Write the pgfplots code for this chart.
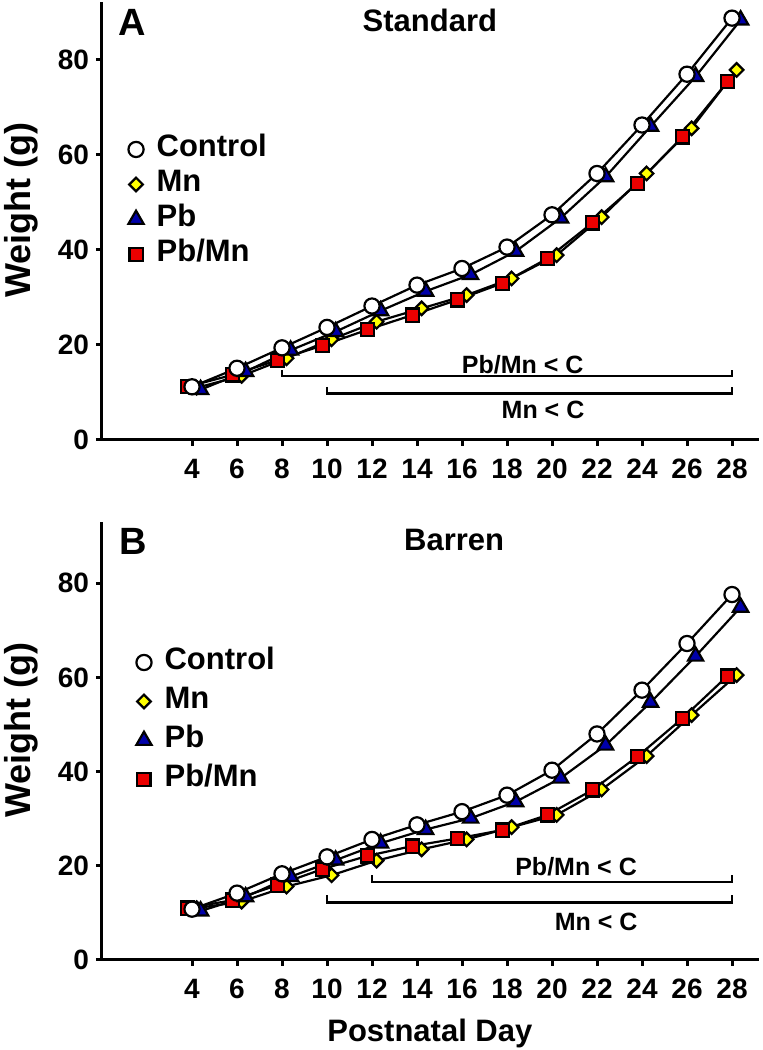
\documentclass[border=0pt]{standalone}
\usepackage{fontspec}
\setmainfont{Liberation Sans}
\usepackage{pgfplots}
\usepackage{pgfplotstable}
\pgfplotsset{compat=1.18}
\definecolor{cy}{RGB}{255,255,0}
\definecolor{cb}{RGB}{0,0,170}
\definecolor{cr}{RGB}{235,0,0}

\pgfplotstableread{
day ctl pb mn pbmn
4  11.2 10.6 11.0 11.2
6  15.1 14.4 13.5 13.7
8  19.4 18.9 17.2 16.8
10 23.7 22.8 21.2 19.9
12 28.2 27.2 24.9 23.2
14 32.6 31.3 27.7 26.3
16 36.1 34.8 30.5 29.5
18 40.6 39.7 34.0 33.0
20 47.4 46.7 38.9 38.2
22 56.1 55.4 46.9 45.7
24 66.3 66.0 56.1 54.0
26 77.0 76.5 65.6 63.8
28 88.8 88.4 77.9 75.4
}\stdtab

\pgfplotstableread{
day ctl pb mn pbmn
4  10.8 10.4 11.0 11.0
6  14.2 13.4 12.4 12.7
8  18.3 17.7 15.6 15.9
10 21.9 21.2 18.0 19.3
12 25.6 24.8 21.1 22.1
14 28.7 27.7 23.5 24.2
16 31.5 30.1 25.6 25.8
18 35.0 33.6 28.2 27.6
20 40.3 38.6 30.8 30.8
22 48.0 45.6 36.2 36.1
24 57.3 54.7 43.3 43.2
26 67.2 64.5 52.0 51.3
28 77.6 74.9 60.5 60.3
}\bartab

\tikzset{
  annot/.style={font=\fontsize{12.5}{14}\selectfont\bfseries},
  ctl/.style={black, line width=1.1pt, mark=*, mark size=3.8pt, mark options={fill=white, solid}},
  mnS/.style={black, line width=1.1pt, mark=square*, mark size=2.4pt, mark options={fill=cy, rotate=45, solid}},
  pbS/.style={black, line width=1.1pt, mark=triangle*, mark size=4.4pt, mark options={fill=cb, solid}},
  pbmnS/.style={black, line width=1.1pt, mark=square*, mark size=3.3pt, mark options={fill=cr, solid}},
}
\pgfplotsset{
  panel/.style={
    scale only axis, width=328.5pt, height=219pt,
    xmin=0, xmax=29.2, ymin=0,
    axis x line=bottom, axis y line=left,
    axis line style={-, line width=1.5pt},
    xtick={4,6,...,28}, ytick={0,20,...,80},
    tick align=outside, major tick length=3pt,
    every tick/.style={line width=1.5pt, black},
    tick label style={font=\fontsize{14}{16}\selectfont\bfseries},
    xticklabel style={yshift=-3pt},
    /pgf/number format/assume math mode=true,
    clip=false,
    legend cell align=left,
    legend style={draw=none, fill=none, inner sep=0pt,
      font=\fontsize{15.5}{17}\selectfont\bfseries, column sep=6.5pt,
      nodes={inner sep=0pt, text height=10.5pt, text depth=3pt}},
  },
}

\begin{document}
\begin{tikzpicture}
% Panel A
\begin{axis}[panel, at={(51pt,305pt)}, anchor=south west, ymax=92.2,
  legend style={at={(axis description cs:0.0396,0.695)}, anchor=north west, row sep=4pt}]
\addlegendimage{only marks, ctl}\addlegendentry{Control}
\addlegendimage{only marks, mnS}\addlegendentry{Mn}
\addlegendimage{only marks, pbS}\addlegendentry{Pb}
\addlegendimage{only marks, pbmnS}\addlegendentry{Pb/Mn}
\addplot[mnS, xshift=2.3pt, forget plot] table[x=day, y=mn] {\stdtab};
\addplot[pbmnS, xshift=-2.3pt, forget plot] table[x=day, y=pbmn] {\stdtab};
\addplot[pbS, xshift=4.3pt, forget plot] table[x=day, y=pb] {\stdtab};
\addplot[ctl, forget plot] table[x=day, y=ctl] {\stdtab};
\draw[line width=1.2pt] (axis cs:8,14.7) -- (axis cs:8,13.5) -- (axis cs:28,13.5) -- (axis cs:28,14.7);
\draw[line width=1.2pt] (axis cs:10,11.2) -- (axis cs:10,9.8) -- (axis cs:28,9.8) -- (axis cs:28,11.2);
\node[annot] at (axis cs:18.7,15.8) {Pb/Mn < C};
\node[annot] at (axis cs:19.6,6.3) {Mn < C};
\node[font=\fontsize{15.5}{17}\selectfont\bfseries] at (axis description cs:0.499,0.959) {Standard};
\node[font=\fontsize{19}{21}\selectfont\bfseries] at (axis description cs:0.0457,0.954) {A};
\node[font=\fontsize{18}{20}\selectfont\bfseries, rotate=90] at (axis description cs:-0.123,0.525) {Weight (g)};
\end{axis}
% Panel B
\begin{axis}[panel, at={(51pt,45pt)}, anchor=south west, ymax=93,
  legend style={at={(axis description cs:0.0517,0.711)}, anchor=north west, row sep=6pt}]
\addlegendimage{only marks, ctl}\addlegendentry{Control}
\addlegendimage{only marks, mnS}\addlegendentry{Mn}
\addlegendimage{only marks, pbS}\addlegendentry{Pb}
\addlegendimage{only marks, pbmnS}\addlegendentry{Pb/Mn}
\addplot[mnS, xshift=2.3pt, forget plot] table[x=day, y=mn] {\bartab};
\addplot[pbmnS, xshift=-2.3pt, forget plot] table[x=day, y=pbmn] {\bartab};
\addplot[pbS, xshift=4.3pt, forget plot] table[x=day, y=pb] {\bartab};
\addplot[ctl, forget plot] table[x=day, y=ctl] {\bartab};
\draw[line width=1.2pt] (axis cs:12,18.0) -- (axis cs:12,16.6) -- (axis cs:28,16.6) -- (axis cs:28,18.0);
\draw[line width=1.2pt] (axis cs:10,13.8) -- (axis cs:10,12.2) -- (axis cs:28,12.2) -- (axis cs:28,13.8);
\node[annot] at (axis cs:21.07,19.8) {Pb/Mn < C};
\node[annot] at (axis cs:21.96,8.1) {Mn < C};
\node[font=\fontsize{15.5}{17}\selectfont\bfseries] at (axis description cs:0.536,0.959) {Barren};
\node[font=\fontsize{19}{21}\selectfont\bfseries] at (axis description cs:0.047,0.955) {B};
\node[font=\fontsize{18}{20}\selectfont\bfseries, rotate=90] at (axis description cs:-0.123,0.525) {Weight (g)};
\node[font=\fontsize{15.5}{17}\selectfont\bfseries] at (axis description cs:0.499,-0.1667) {Postnatal Day};
\end{axis}
\pgfresetboundingbox
\useasboundingbox (0,0) rectangle (381.5pt,525pt);
\end{tikzpicture}
\end{document}
